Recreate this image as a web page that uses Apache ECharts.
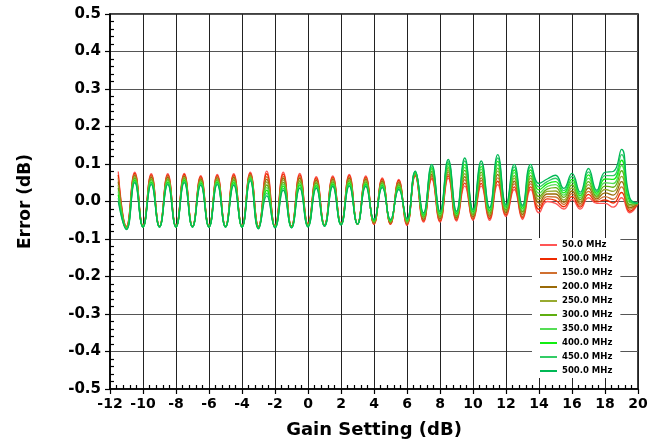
<!DOCTYPE html>
<html><head><meta charset="utf-8">
<script src="https://cdn.jsdelivr.net/npm/echarts@6/dist/echarts.min.js"></script>
<style>html,body{margin:0;padding:0;background:#fff}#c{width:664px;height:448px}</style>
</head><body><div id="c"></div>
<script>
const xValues = [-11.5,-11,-10.5,-10,-9.5,-9,-8.5,-8,-7.5,-7,-6.5,-6,-5.5,-5,-4.5,-4,-3.5,-3,-2.5,-2,-1.5,-1,-0.5,0,0.5,1,1.5,2,2.5,3,3.5,4,4.5,5,5.5,6,6.5,7,7.5,8,8.5,9,9.5,10,10.5,11,11.5,12,12.5,13,13.5,14,14.5,15,15.5,16,16.5,17,17.5,18,18.5,19,19.5,20];

const s50  = [.080,-.066,.078,-.066,.074,-.066,.074,-.066,.075,-.066,.069,-.066,.072,-.066,.074,-.066,.078,-.066,.081,-.066,.078,-.066,.075,-.060,.066,-.062,.068,-.060,.072,-.060,.068,-.061,.063,-.061,.059,-.064,.068,-.055,.059,-.055,.062,-.052,.041,-.050,.041,-.050,.045,-.040,.032,-.048,.032,-.030,.000,-.005,-.020,.005,-.020,.010,-.005,-.005,-.015,.010,-.030,-.005];
const s100 = [.071,-.067,.075,-.066,.071,-.066,.071,-.066,.072,-.066,.066,-.066,.069,-.066,.071,-.066,.075,-.067,.074,-.066,.073,-.066,.071,-.061,.063,-.062,.065,-.060,.069,-.060,.065,-.060,.060,-.060,.056,-.062,.069,-.052,.063,-.052,.068,-.049,.049,-.047,.048,-.046,.054,-.036,.039,-.044,.039,-.021,.007,.003,-.014,.013,-.015,.019,-.001,.004,-.004,.024,-.026,-.005];
const s150 = [.062,-.068,.072,-.066,.068,-.066,.068,-.066,.069,-.066,.063,-.066,.066,-.066,.067,-.066,.073,-.068,.066,-.067,.067,-.067,.066,-.062,.059,-.063,.062,-.060,.065,-.060,.062,-.058,.057,-.058,.053,-.060,.071,-.049,.068,-.049,.073,-.046,.058,-.044,.056,-.042,.063,-.033,.047,-.040,.047,-.013,.013,.012,-.008,.021,-.010,.027,.003,.013,.006,.039,-.021,-.005];
const s200 = [.053,-.069,.069,-.067,.064,-.067,.064,-.067,.067,-.067,.060,-.067,.063,-.067,.064,-.067,.070,-.068,.059,-.067,.062,-.067,.062,-.063,.056,-.063,.059,-.061,.062,-.060,.059,-.057,.054,-.057,.050,-.058,.072,-.047,.072,-.045,.079,-.043,.066,-.040,.063,-.039,.072,-.029,.054,-.035,.054,-.004,.020,.020,-.002,.028,-.005,.036,.007,.023,.017,.053,-.017,-.005];
const s250 = [.044,-.070,.066,-.067,.061,-.067,.061,-.067,.064,-.067,.057,-.067,.060,-.067,.060,-.067,.068,-.069,.052,-.068,.057,-.068,.057,-.064,.052,-.064,.056,-.061,.058,-.060,.056,-.055,.051,-.055,.047,-.056,.074,-.044,.077,-.042,.084,-.040,.074,-.037,.071,-.035,.081,-.026,.062,-.031,.062,.005,.027,.028,.004,.036,.000,.045,.011,.032,.027,.067,-.012,-.005];
const s300 = [.036,-.071,.062,-.067,.058,-.067,.058,-.067,.061,-.067,.055,-.067,.057,-.067,.057,-.067,.065,-.070,.044,-.068,.051,-.068,.053,-.064,.049,-.064,.052,-.061,.055,-.060,.052,-.054,.049,-.054,.044,-.054,.075,-.041,.081,-.039,.090,-.038,.083,-.034,.078,-.031,.089,-.022,.069,-.027,.069,.013,.033,.037,.011,.044,.005,.053,.014,.041,.038,.082,-.008,-.005];
const s350 = [.027,-.072,.059,-.067,.055,-.067,.055,-.067,.058,-.067,.052,-.067,.054,-.067,.053,-.067,.063,-.071,.037,-.069,.046,-.069,.048,-.065,.045,-.065,.049,-.061,.051,-.060,.049,-.052,.046,-.052,.041,-.052,.077,-.038,.086,-.036,.095,-.035,.091,-.031,.086,-.027,.098,-.019,.077,-.023,.077,.022,.040,.045,.017,.052,.010,.062,.018,.050,.048,.096,-.003,-.005];
const s400 = [.018,-.073,.056,-.068,.051,-.068,.051,-.068,.056,-.068,.049,-.068,.051,-.068,.050,-.068,.060,-.071,.030,-.069,.041,-.069,.044,-.066,.042,-.065,.046,-.062,.048,-.060,.046,-.051,.043,-.051,.038,-.050,.078,-.036,.090,-.032,.101,-.032,.099,-.027,.093,-.024,.107,-.015,.084,-.018,.084,.031,.047,.053,.023,.059,.015,.071,.022,.060,.059,.110,.001,-.005];
const s450 = [.009,-.074,.053,-.068,.048,-.068,.048,-.068,.053,-.068,.046,-.068,.048,-.068,.046,-.068,.058,-.072,.022,-.070,.035,-.070,.039,-.067,.038,-.066,.043,-.062,.044,-.060,.043,-.049,.040,-.049,.035,-.048,.080,-.033,.095,-.029,.106,-.029,.108,-.024,.101,-.020,.116,-.012,.092,-.014,.092,.039,.053,.062,.029,.067,.020,.079,.026,.069,.069,.125,.006,-.005];
const s500 = [.000,-.075,.050,-.068,.045,-.068,.045,-.068,.050,-.068,.043,-.068,.045,-.068,.043,-.068,.055,-.073,.015,-.070,.030,-.070,.035,-.068,.035,-.066,.040,-.062,.041,-.060,.040,-.048,.037,-.048,.032,-.046,.081,-.030,.099,-.026,.112,-.026,.116,-.021,.108,-.016,.125,-.008,.099,-.010,.099,.048,.060,.070,.035,.075,.025,.088,.030,.078,.080,.139,.010,-.005];

const seriesNames = ['50.0 MHz','100.0 MHz','150.0 MHz','200.0 MHz','250.0 MHz','300.0 MHz','350.0 MHz','400.0 MHz','450.0 MHz','500.0 MHz'];
const seriesData = [s50,s100,s150,s200,s250,s300,s350,s400,s450,s500];
const seriesColors = ['#ff5555','#ee2a00','#d07030','#9a6a08','#98aa30','#5fae10','#55dd55','#11ee11','#33cc66','#00b855'];

const xMin = -12, xMax = 20, xStep = 2;
const yMin = -0.5, yMax = 0.5, yStep = 0.1;

const FONT = '"DejaVu Sans", Verdana, sans-serif';
const chart = echarts.init(document.getElementById('c'), null, {renderer: 'canvas'});

const series = seriesData.map((arr, k) => ({
  name: seriesNames[k],
  type: 'line',
  xAxisIndex: 0, yAxisIndex: 0,
  smooth: 0.5,
  symbol: 'none',
  showSymbol: false,
  color: seriesColors[k],
  lineStyle: {width: 1.3, color: seriesColors[k]},
  data: xValues.map((x, i) => [x, arr[i]]),
  animation: false
}));

chart.setOption({
  animation: false,
  backgroundColor: '#fff',
  grid: {left: 110, right: 26, top: 14, bottom: 59, show: true, borderColor: '#000', borderWidth: 1.5, backgroundColor: 'transparent'},
  legend: {
    orient: 'vertical', left: 532, top: 238,
    padding: [1, 8, 1, 8],
    backgroundColor: '#fff',
    icon: 'rect', itemWidth: 17, itemHeight: 2, itemGap: 2,
    textStyle: {fontFamily: FONT, fontWeight: 'bold', fontSize: 8.5, color: '#000', lineHeight: 12},
    data: seriesNames
  },
  xAxis: [{
    type: 'value', min: xMin, max: xMax, interval: xStep, position: 'bottom',
    name: 'Gain Setting (dB)', nameLocation: 'middle', nameGap: 32,
    nameTextStyle: {fontFamily: FONT, fontWeight: 'bold', fontSize: 18, color: '#000'},
    axisLine: {show: true, onZero: false, lineStyle: {color: '#000', width: 1.5}},
    axisTick: {show: true, inside: false, length: 5, lineStyle: {color: '#000', width: 1.2}},
    axisLabel: {fontFamily: FONT, fontWeight: 'bold', fontSize: 14, color: '#000', margin: 8},
    splitLine: {show: true, lineStyle: {color: '#222', width: 1}},
    minorTick: {show: false}
  }, {
    type: 'value', min: xMin, max: xMax, interval: xStep, position: 'bottom',
    axisLine: {show: false, onZero: false},
    axisTick: {show: false, inside: true},
    axisLabel: {show: false},
    splitLine: {show: false},
    minorTick: {show: true, splitNumber: 5, length: 4, lineStyle: {color: '#000', width: 1.2}}
  }],
  yAxis: [{
    type: 'value', min: yMin, max: yMax, interval: yStep, position: 'left',
    name: 'Error (dB)', nameLocation: 'middle', nameGap: 76,
    nameTextStyle: {fontFamily: FONT, fontWeight: 'bold', fontSize: 17, color: '#000'},
    axisLine: {show: true, onZero: false, lineStyle: {color: '#000', width: 1.5}},
    axisTick: {show: true, inside: false, length: 5, lineStyle: {color: '#000', width: 1.2}},
    axisLabel: {fontFamily: FONT, fontWeight: 'bold', fontSize: 15, color: '#000', margin: 9,
      formatter: v => (Math.abs(v) < 1e-9 ? 0 : v).toFixed(1)},
    splitLine: {show: true, lineStyle: {color: '#555', width: 1}},
    minorTick: {show: false}
  }, {
    type: 'value', min: yMin, max: yMax, interval: yStep, position: 'left',
    axisLine: {show: false, onZero: false},
    axisTick: {show: false, inside: true},
    axisLabel: {show: false},
    splitLine: {show: false},
    minorTick: {show: true, splitNumber: 5, length: 4, lineStyle: {color: '#000', width: 1.2}}
  }],
  series: series
});
</script>
</body></html>
